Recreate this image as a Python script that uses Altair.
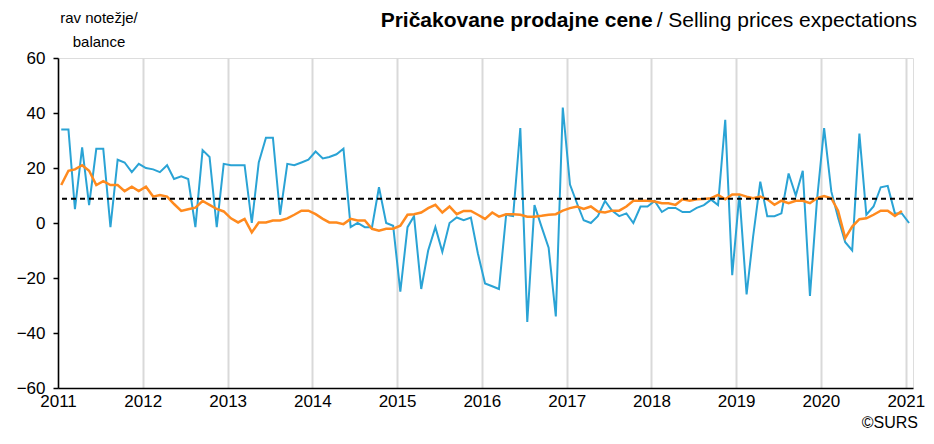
import altair as alt
import pandas as pd

# Monthly balances, Jan 2011 .. Jan 2021 (blue) and smoothed series Jan 2011 .. Dec 2020 (orange)
blue_values = [
    34, 34, 5, 27.5, 6.5, 27, 27, -1.5, 23, 22, 18.5, 21.5,
    20, 19.5, 18.5, 21, 16, 17, 16, -1.5, 26.5, 24, -1.5, 21.5,
    21, 21, 21, 0, 22, 31, 31, 3, 21.5, 21, 22, 23,
    26, 23.5, 24, 25, 27, -1.5, 0, -1.5, -1.5, 13, 0, -1,
    -25, -1.5, 2.5, -24, -10, -1.5, -10.5, 0, 2, 1, 2, -11,
    -22, -23, -24, 3, 2.5, 34.5, -36, 6.5, -1.5, -9, -34, 42,
    14, 7, 1, 0, 2.5, 8, 4.5, 2.5, 3.5, 0, 6, 6,
    8, 4, 5.5, 5.5, 4, 4, 5.5, 6.5, 8.5, 6.5, 37.5, -19,
    10.5, -26, -5, 15, 2.5, 2.5, 3.5, 18, 10, 19, -26.5, 8,
    34.5, 11.5, 2, -7, -10, 32.5, 3, 6, 13, 13.5, 3.5, 3.5,
    0,
]
orange_values = [
    13.8, 19, 19.5, 21, 19, 13.8, 15.2, 13.8, 13.8, 11.6, 13.2, 11.6,
    13.2, 9.6, 10.2, 9.6, 6.9, 4.4, 5, 5.6, 8, 6.6, 5.1, 4.2,
    1.7, 0.2, 1.5, -3.4, 0.2, 0.2, 0.9, 0.9, 1.7, 3, 4.5, 4.5,
    3.2, 1.5, 0.2, 0.2, -0.4, 1.5, 0.9, 0.9, -2.1, -2.8, -2.1, -2.1,
    -1, 3, 3.2, 3.8, 5.4, 6.6, 3.8, 6, 3.2, 4.4, 4.4, 3,
    1.5, 3.8, 2.3, 3.2, 3.2, 3, 2.3, 2.3, 2.6, 3, 3.2, 4.5,
    5.4, 6, 5.1, 6, 4.2, 3.8, 4.5, 4.5, 6, 8.1, 8.1, 8.1,
    7.8, 7.2, 7.2, 6.6, 8.6, 8.1, 8.6, 8.7, 9, 10.2, 8.6, 10.4,
    10.4, 9.6, 9, 9.6, 8.6, 6.6, 8.1, 7.2, 8.1, 8.1, 7.2, 9,
    9.8, 9, 4.5, -5.5, -1.3, 1.4, 1.7, 3, 4.5, 4.5, 2.6, 4.4,
]
long_term_average = [8.8]
year_labels = list(range(2011, 2022))
y_ticks = [-60, -40, -20, 0, 20, 40, 60]

months = pd.date_range("2011-01-01", periods=len(blue_values), freq="MS") + pd.Timedelta(days=14)
date_str = months.strftime("%Y-%m-%dT00:00:00")
df_blue = pd.DataFrame({"date": date_str, "value": blue_values})
df_orange = pd.DataFrame({"date": date_str[: len(orange_values)], "value": orange_values})
df_avg = pd.DataFrame({"value": long_term_average})

FONT = "Liberation Sans"
BLUE = "#2aa3d5"
ORANGE = "#ff8a1e"

x_enc = alt.X(
    "date:T",
    title=None,
    scale=alt.Scale(domain=[alt.DateTime(year=2011, month=1, date=1),
                            alt.DateTime(year=2021, month=2, date=1)]),
    axis=alt.Axis(
        values=[alt.DateTime(year=y, month=1, date=1) for y in year_labels],
        format="%Y", grid=True, gridColor="#d9d9d9", gridWidth=2,
        ticks=False, domainColor="black", domainWidth=1.5,
        labelFontSize=17, labelFont=FONT, labelColor="black",
        labelPadding=5, labelFlush=False, labelOverlap=False,
    ),
)
y_enc = alt.Y(
    "value:Q",
    title=None,
    scale=alt.Scale(domain=[-60, 60]),
    axis=alt.Axis(
        values=y_ticks, grid=False, tickSize=5, tickColor="black", tickWidth=1.5,
        domainColor="black", domainWidth=1.5,
        labelFontSize=17, labelFont=FONT, labelColor="black", labelPadding=8,
    ),
)

blue_line = alt.Chart(df_blue).mark_line(color=BLUE, strokeWidth=2).encode(x=x_enc, y=y_enc)
orange_line = alt.Chart(df_orange).mark_line(color=ORANGE, strokeWidth=2.5).encode(x="date:T", y="value:Q")
avg_rule = alt.Chart(df_avg).mark_rule(color="black", strokeWidth=2, strokeDash=[5, 4]).encode(y="value:Q")

one = pd.DataFrame({"a": [0]})
def label(text, x, y, size, align="left", weight="normal"):
    return alt.Chart(one).mark_text(
        align=align, baseline="alphabetic", font=FONT, fontSize=size,
        fontWeight=weight, color="black",
    ).encode(x=alt.value(x), y=alt.value(y), text=alt.value(text))

title_size = 21
normal_part = "/ Selling prices expectations"
title_right = label(normal_part, 859, -31, title_size, align="right")
title_left = label("Pričakovane prodajne cene", 859 - 12.4 * title_size - 4, -31, title_size,
                   align="right", weight="bold")
ylab1 = label("rav notežje/", 41, -35, 15, align="center")
ylab2 = label("balance", 41, -11, 15, align="center")
source = label("©SURS", 860, 370, 16, align="right")

chart = alt.layer(
    blue_line, orange_line, avg_rule, title_left, title_right, ylab1, ylab2, source
).properties(
    width=855, height=330,
    padding={"left": 50, "top": 50, "right": 12, "bottom": 48},
    autosize=alt.AutoSizeParams(type="none"),
).configure_view(stroke=None).configure(font=FONT)

chart.save("out.html", embed_options={"renderer": "svg", "actions": False})
